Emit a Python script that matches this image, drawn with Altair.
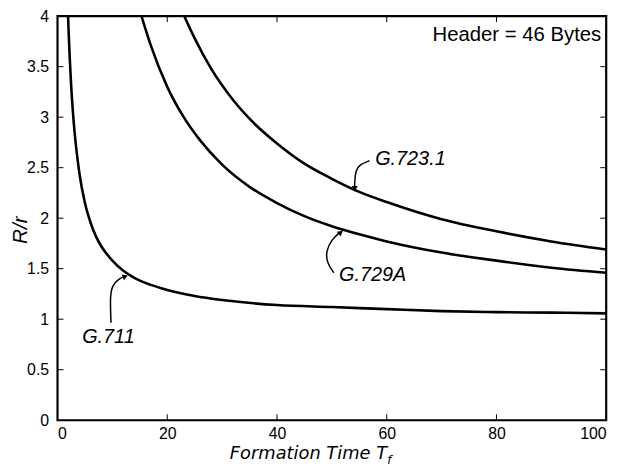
import altair as alt
import pandas as pd

# ---- data ----
g711_tf = [1.92, 2, 2.5, 3, 4, 5, 6, 7, 8, 10, 12, 14, 17, 20, 25, 30, 40, 50, 60, 70, 80, 90, 100]
g711_r = [4.0, 3.88, 3.30, 2.92, 2.44, 2.15, 1.96, 1.82, 1.72, 1.58, 1.48, 1.41, 1.34, 1.29, 1.23, 1.19,
          1.14, 1.12, 1.10, 1.08, 1.07, 1.065, 1.058]
g729_tf = [15.3, 17, 20, 23, 26, 30, 35, 40, 45, 50, 55, 60, 70, 80, 90, 100]
g729_r = [4.0, 3.71, 3.30, 3.0, 2.77, 2.53, 2.31, 2.15, 2.02, 1.92, 1.84, 1.77, 1.66, 1.58, 1.51, 1.46]
g723_tf = [23.1, 25, 28, 32, 36, 40, 45, 50, 55, 60, 70, 80, 90, 100]
g723_r = [4.0, 3.78, 3.48, 3.17, 2.93, 2.74, 2.54, 2.39, 2.26, 2.16, 1.99, 1.87, 1.77, 1.69]

x_ticks = [0, 20, 40, 60, 80, 100]
y_ticks = [0, 0.5, 1, 1.5, 2, 2.5, 3, 3.5, 4]

label_text = ["G.723.1", "G.729A", "G.711"]
label_x = [57.9, 51.3, 4.5]
label_y = [2.53, 1.38, 0.76]

arrow_name = ["G.723.1"] * 5 + ["G.729A"] * 5 + ["G.711"] * 5
arrow_x = [56.86, 55.05, 54.33, 54.15, 54.15,
           50.36, 49.10, 48.92, 50.0, 51.44,
           9.75, 9.57, 9.93, 11.19, 12.27]
arrow_y = [2.569, 2.530, 2.472, 2.355, 2.30,
           1.460, 1.557, 1.674, 1.791, 1.859,
           0.964, 1.217, 1.333, 1.401, 1.426]
head_x = [54.15, 51.5, 12.2]
head_y = [2.300, 1.853, 1.421]
head_angle = [180, 51, 69]

header_text = "Header = 46 Bytes"

# ---- tables ----
curves = pd.concat([
    pd.DataFrame({"x": g711_tf, "y": g711_r, "codec": "G.711"}),
    pd.DataFrame({"x": g729_tf, "y": g729_r, "codec": "G.729A"}),
    pd.DataFrame({"x": g723_tf, "y": g723_r, "codec": "G.723.1"}),
])
labels = pd.DataFrame({"x": label_x, "y": label_y, "t": label_text})
arrows = pd.DataFrame({"x": arrow_x, "y": arrow_y, "codec": arrow_name,
                       "i": list(range(len(arrow_x)))})
heads = pd.DataFrame({"x": head_x, "y": head_y, "a": head_angle})
xt = pd.DataFrame({"x": x_ticks[1:-1]})
yt = pd.DataFrame({"y": y_ticks[1:-1]})

W, H = 554, 408
FONT = "Liberation Sans"
xs = alt.Scale(domain=[0, 100], nice=False)
ys = alt.Scale(domain=[0, 4], nice=False)
xaxis = alt.Axis(values=x_ticks, title=None, ticks=False, domain=False, grid=False, format="d",
                 labelFont=FONT, labelFontSize=16, labelColor="black", labelPadding=5)
yaxis = alt.Axis(values=y_ticks, title=None, ticks=False, domain=False, grid=False, format="~g",
                 labelFont=FONT, labelFontSize=16, labelColor="black", labelPadding=9)
X = alt.X("x:Q", scale=xs, axis=xaxis, title=None)
Y = alt.Y("y:Q", scale=ys, axis=yaxis, title=None)

lines = alt.Chart(curves).mark_line(color="black", strokeWidth=2.6, interpolate="monotone",
                                    clip=True).encode(x=X, y=Y, detail="codec:N")

tick_b = alt.Chart(xt).mark_rule(color="black", strokeWidth=1).encode(
    x=X, y=alt.value(H), y2=alt.value(H - 6))
tick_t = alt.Chart(xt).mark_rule(color="black", strokeWidth=1).encode(
    x=X, y=alt.value(0), y2=alt.value(6))
tick_l = alt.Chart(yt).mark_rule(color="black", strokeWidth=1).encode(
    y=Y, x=alt.value(0), x2=alt.value(6))
tick_r = alt.Chart(yt).mark_rule(color="black", strokeWidth=1).encode(
    y=Y, x=alt.value(W), x2=alt.value(W - 6))

arrow_lines = alt.Chart(arrows).mark_line(color="black", strokeWidth=1.5, interpolate="basis").encode(
    x=X, y=Y, detail="codec:N", order="i:Q")
arrow_heads = alt.Chart(heads).mark_point(shape="triangle", filled=True, color="black",
                                          size=38, opacity=1).encode(
    x=X, y=Y, angle=alt.Angle("a:Q", scale=None))

label_marks = alt.Chart(labels).mark_text(align="left", baseline="alphabetic", font=FONT,
                                          fontStyle="italic", fontSize=20, color="black").encode(
    x=X, y=Y, text="t:N")

header = alt.Chart(pd.DataFrame({"t": [header_text]})).mark_text(
    align="right", baseline="alphabetic", font=FONT, fontSize=20.5, color="black").encode(
    x=alt.value(W - 5), y=alt.value(25), text="t:N")

xtitle = alt.Chart(pd.DataFrame({"t": ["Formation Time T"]})).mark_text(
    align="left", baseline="alphabetic", font="DejaVu Sans", fontStyle="italic", fontSize=18,
    color="black").encode(x=alt.value(174), y=alt.value(447), text="t:N")
xsub = alt.Chart(pd.DataFrame({"t": ["f"]})).mark_text(
    align="left", baseline="alphabetic", font="DejaVu Sans", fontStyle="italic", fontSize=12,
    color="black").encode(x=alt.value(333), y=alt.value(452), text="t:N")
ytitle = alt.Chart(pd.DataFrame({"t": ["R/r"]})).mark_text(
    align="center", baseline="middle", font=FONT, fontStyle="italic", fontSize=21, angle=270,
    color="black").encode(x=alt.value(-37), y=alt.value(216), text="t:N")

chart = alt.layer(lines, tick_b, tick_t, tick_l, tick_r, arrow_lines, arrow_heads,
                  label_marks, header, xtitle, xsub, ytitle).properties(
    width=W, height=H,
    background="white",
    autosize=alt.AutoSizeParams(type="none"),
    padding={"left": 50, "top": 6, "right": 20, "bottom": 45},
).configure_view(stroke="black", strokeWidth=2.2)

chart.save("out.html", embed_options={"renderer": "svg", "actions": False})
